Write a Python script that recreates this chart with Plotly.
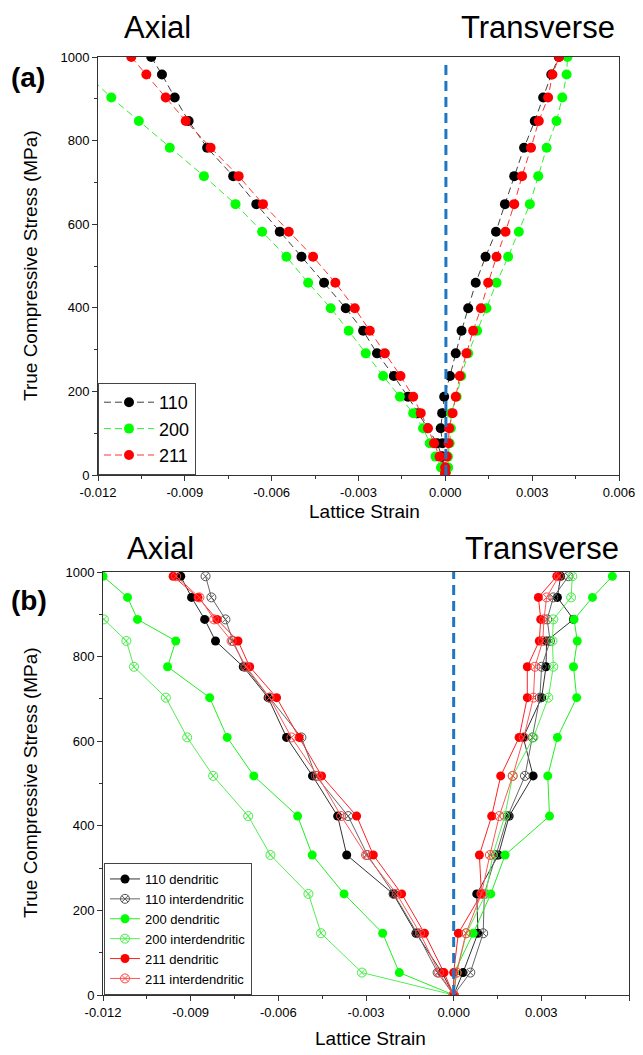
import plotly.graph_objects as go

# ---------------- Panel (a) data ----------------
stress_a = [5, 18, 44, 76, 112, 148, 187, 237, 291, 345, 399, 460, 522, 582, 648, 715, 783, 847, 903, 958, 1000]
a110_axial = [0.0, -0.00005, -0.00012, -0.00028, -0.00062, -0.00094, -0.00129, -0.00178, -0.00236, -0.00284, -0.00344,
              -0.00419, -0.00497, -0.00572, -0.00653, -0.00733, -0.00823, -0.00887, -0.00935, -0.00979, -0.01016]
a110_trans = [0.0, -0.00012, -0.00011, -0.00010, -0.00016, -0.00011, -0.00004, 0.00016, 0.00036, 0.00056, 0.00079,
              0.00105, 0.00139, 0.00175, 0.00206, 0.00238, 0.00272, 0.00309, 0.00338, 0.00366, 0.00392]
a200_axial = [0.0, -0.00015, -0.00034, -0.00054, -0.00077, -0.00111, -0.00157, -0.00215, -0.00275, -0.00334, -0.00396,
              -0.00474, -0.00549, -0.00633, -0.00725, -0.00834, -0.00952, -0.01059, -0.01154, -0.01238, -0.0129]
a200_trans = [0.0, 0.00010, 0.00009, 0.00015, 0.00019, 0.00020, 0.00039, 0.00055, 0.00079, 0.00110, 0.00142,
              0.00177, 0.00217, 0.00254, 0.00292, 0.00321, 0.00350, 0.00384, 0.00404, 0.00419, 0.00422]
a211_axial = [0.0, 0.0, -0.00020, -0.00039, -0.00060, -0.00085, -0.00111, -0.00155, -0.00209, -0.00261, -0.00313,
              -0.00380, -0.00457, -0.00541, -0.00630, -0.00714, -0.00811, -0.00897, -0.00966, -0.01033, -0.01085]
a211_trans = [0.0, 0.0, 0.00005, 0.00011, 0.00013, 0.00025, 0.00036, 0.00050, 0.00073, 0.00096, 0.00123,
              0.00148, 0.00177, 0.00208, 0.00238, 0.00265, 0.00296, 0.00323, 0.00355, 0.00370, 0.00393]

# ---------------- Panel (b) data ----------------
stress_b = [0, 53, 146, 239, 331, 423, 518, 609, 703, 776, 837, 888, 940, 990]
b110d_axial = [0.0, -0.00040, -0.00129, -0.00207, -0.00366, -0.00397, -0.00483, -0.00572, -0.00635, -0.00720, -0.00815, -0.00852, -0.00897, -0.00934]
b110d_trans = [0.0, 0.00032, 0.00083, 0.00079, 0.00153, 0.00190, 0.00272, 0.00238, 0.00301, 0.00316, 0.00318, 0.00410, 0.00355, 0.00366]
b110i_axial = [0.0, -0.00055, -0.00125, -0.00205, -0.00295, -0.00361, -0.00472, -0.00521, -0.00630, -0.00715, -0.00755, -0.00781, -0.00829, -0.00849]
b110i_trans = [0.0, 0.00057, 0.00101, 0.00105, 0.00145, 0.00185, 0.00244, 0.00270, 0.00295, 0.00301, 0.00330, 0.00320, 0.00341, 0.00393]
b200d_axial = [0.0, -0.00186, -0.00243, -0.00375, -0.00484, -0.00534, -0.00684, -0.00775, -0.00835, -0.00979, -0.00951, -0.01082, -0.01116, -0.01200]
b200d_trans = [0.0, 0.00002, 0.00067, 0.00127, 0.00176, 0.00328, 0.00322, 0.00355, 0.00421, 0.00410, 0.00423, 0.00412, 0.00475, 0.00543]
b200i_axial = [0.0, -0.00314, -0.00454, -0.00497, -0.00627, -0.00703, -0.00823, -0.00912, -0.00985, -0.01094, -0.01120, -0.01197, -0.01260, -0.01320]
b200i_trans = [0.0, 0.00010, 0.00044, 0.00110, 0.00134, 0.00175, 0.00202, 0.00273, 0.00324, 0.00341, 0.00338, 0.00341, 0.00402, 0.00406]
b211d_axial = [0.0, -0.00033, -0.00100, -0.00178, -0.00275, -0.00332, -0.00452, -0.00529, -0.00606, -0.00698, -0.00738, -0.00810, -0.00875, -0.00960]
b211d_trans = [0.0, 0.0, 0.00016, 0.00095, 0.00088, 0.00130, 0.00161, 0.00224, 0.00252, 0.00252, 0.00293, 0.00298, 0.00290, 0.00353]
b211i_axial = [0.0, -0.00050, -0.00115, -0.00195, -0.00300, -0.00385, -0.00465, -0.00555, -0.00630, -0.00710, -0.00760, -0.00820, -0.00870, -0.00950]
b211i_trans = [0.0, 0.00010, 0.00042, 0.00095, 0.00124, 0.00156, 0.00202, 0.00240, 0.00273, 0.00278, 0.00305, 0.00309, 0.00318, 0.00360]

# ---------------- tick labels ----------------
x_tickvals = [-0.012, -0.009, -0.006, -0.003, 0.0, 0.003, 0.006]
x_ticktext = ["-0.012", "-0.009", "-0.006", "-0.003", "0.000", "0.003", "0.006"]
x_minor = [-0.0105, -0.0075, -0.0045, -0.0015, 0.0015, 0.0045]
y_tickvals = [0, 200, 400, 600, 800, 1000]
y_ticktext = ["0", "200", "400", "600", "800", "1000"]
y_minor = [100, 300, 500, 700, 900]

FONT = "Liberation Sans, Arial, sans-serif"

fig = go.Figure()

def vtrace(axial, trans, stress):
    return axial[::-1] + trans, stress[::-1] + stress

# Panel (a) traces
a_series = [
    ("110", a110_axial, a110_trans, "#000000", "#404040"),
    ("200", a200_axial, a200_trans, "#00ff00", "#33ee33"),
    ("211", a211_axial, a211_trans, "#ff0000", "#ff3333"),
]
for name, ax_, tr_, mcol, lcol in a_series:
    xs, ys = vtrace(ax_, tr_, stress_a)
    fig.add_trace(go.Scatter(
        x=xs, y=ys, mode="lines+markers", name=name,
        line=dict(color=lcol, width=1, dash="7px,4px"),
        marker=dict(symbol="circle", size=10, color=mcol, line=dict(width=0)),
        xaxis="x", yaxis="y", legend="legend",
    ))

fig.add_trace(go.Scatter(
    x=[0.00002, 0.00002], y=[0, 985], mode="lines", showlegend=False,
    line=dict(color="#1f77c4", width=3, dash="10px,6px"), xaxis="x", yaxis="y",
))

# Panel (b) traces
b_series = [
    ("110 dendritic", b110d_axial, b110d_trans, "circle", "#000000", "#333333"),
    ("110 interdendritic", b110i_axial, b110i_trans, "circle-x-open", "#555555", "#666666"),
    ("200 dendritic", b200d_axial, b200d_trans, "circle", "#00ff00", "#22ee22"),
    ("200 interdendritic", b200i_axial, b200i_trans, "circle-x-open", "#44ee44", "#55ee55"),
    ("211 dendritic", b211d_axial, b211d_trans, "circle", "#ff0000", "#ff2222"),
    ("211 interdendritic", b211i_axial, b211i_trans, "circle-x-open", "#ff4444", "#ff5555"),
]
for name, ax_, tr_, sym, mcol, lcol in b_series:
    xs, ys = vtrace(ax_, tr_, stress_b)
    if sym == "circle":
        mk = dict(symbol=sym, size=9, color=mcol, line=dict(width=0))
    else:
        mk = dict(symbol=sym, size=9, color=mcol, line=dict(width=1, color=mcol))
    fig.add_trace(go.Scatter(
        x=xs, y=ys, mode="lines+markers", name=name,
        line=dict(color=lcol, width=1),
        marker=mk, xaxis="x2", yaxis="y2", legend="legend2",
    ))

fig.add_trace(go.Scatter(
    x=[0.0, 0.0], y=[0, 1000], mode="lines", showlegend=False,
    line=dict(color="#1f77c4", width=3, dash="10px,6px"), xaxis="x2", yaxis="y2",
))

W, H = 643, 1055

def px_x(p):
    return p / W

def px_y(p):
    return (H - p) / H

axis_common = dict(
    showgrid=False, zeroline=False, showline=True, mirror=True,
    linecolor="#333333", linewidth=1, ticks="outside", ticklen=5,
    tickcolor="#333333", tickwidth=1, automargin=False,
    tickfont=dict(family=FONT, size=13, color="#000000"),
)

xa = dict(axis_common, range=[-0.012, 0.006], tickmode="array",
          tickvals=x_tickvals, ticktext=x_ticktext,
          minor=dict(tickmode="array", tickvals=x_minor, ticks="outside", ticklen=3,
                     tickcolor="#333333", showgrid=False))
ya = dict(axis_common, range=[0, 1000], tickmode="array",
          tickvals=y_tickvals, ticktext=y_ticktext,
          minor=dict(tickmode="array", tickvals=y_minor, ticks="outside", ticklen=3,
                     tickcolor="#333333", showgrid=False))

fig.update_layout(
    width=W, height=H,
    margin=dict(l=0, r=0, t=0, b=0),
    paper_bgcolor="white", plot_bgcolor="white",
    template="none",
    font=dict(family=FONT, color="#000000"),
    xaxis=dict(xa, domain=[px_x(98), px_x(619)], anchor="y"),
    yaxis=dict(ya, domain=[px_y(475), px_y(57)], anchor="x"),
    xaxis2=dict(xa, domain=[px_x(103), px_x(629)], anchor="y2"),
    yaxis2=dict(ya, domain=[px_y(995), px_y(572)], anchor="x2"),
    legend=dict(x=px_x(98), y=px_y(475), xanchor="left", yanchor="bottom",
                bgcolor="white", bordercolor="#444444", borderwidth=1,
                font=dict(family=FONT, size=18, color="#000000"),
                itemwidth=50, tracegroupgap=0),
    legend2=dict(x=px_x(104), y=px_y(995), xanchor="left", yanchor="bottom",
                 bgcolor="white", bordercolor="#444444", borderwidth=1,
                 font=dict(family=FONT, size=13, color="#000000"),
                 itemwidth=30, tracegroupgap=0),
    showlegend=True,
)

ann = []
def add_text(text, x, y, size, bold=False, angle=0):
    ann.append(dict(text=("<b>%s</b>" % text) if bold else text,
                    x=px_x(x), y=px_y(y), xref="paper", yref="paper",
                    xanchor="center", yanchor="middle", showarrow=False,
                    textangle=angle, font=dict(family=FONT, size=size, color="#000000")))

add_text("Axial", 157, 27, 31)
add_text("Transverse", 538, 27, 31)
add_text("(a)", 28, 78, 28, bold=True)
add_text("True Compressive Stress (MPa)", 30, 266, 19, angle=-90)
add_text("Lattice Strain", 364, 511, 19)

add_text("Axial", 160, 548, 31)
add_text("Transverse", 542, 548, 31)
add_text("(b)", 29, 600, 28, bold=True)
add_text("True Compressive Stress (MPa)", 30, 783, 19, angle=-90)
add_text("Lattice Strain", 370, 1038, 19)

fig.update_layout(annotations=ann)

fig.write_html("out.html")
